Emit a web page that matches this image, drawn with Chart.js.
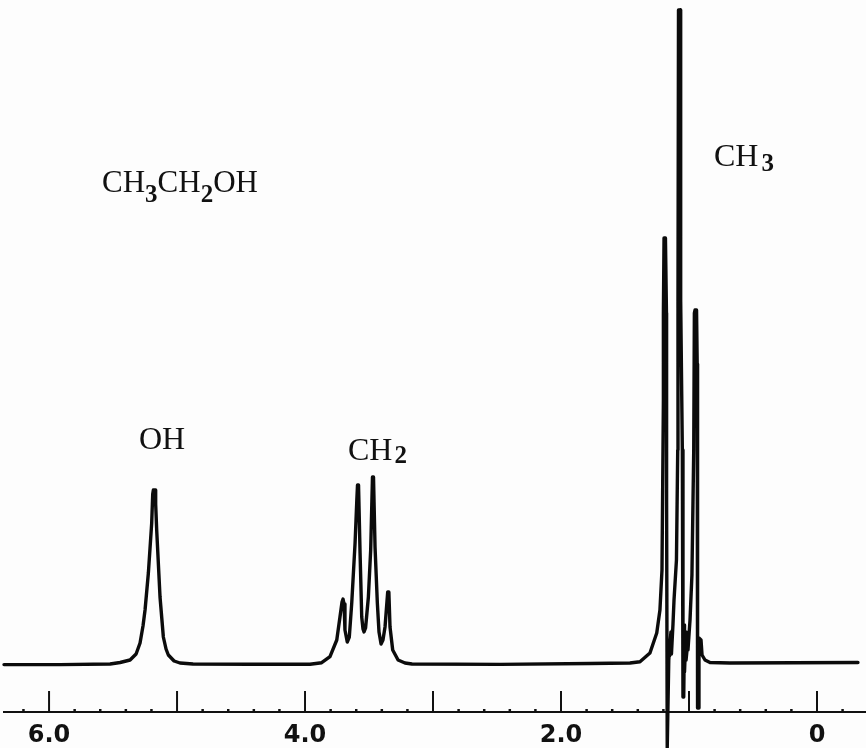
<!DOCTYPE html>
<html lang="en">
<head>
    <meta charset="UTF-8">
    <title>Ethanol NMR spectrum</title>
    <script src="https://cdn.jsdelivr.net/npm/chart.js"></script>
    <style>
        html, body { margin: 0; padding: 0; background-color: #fdfdfd; }
        .chart-box { position: relative; width: 866px; height: 748px; overflow: hidden; }
        .peak-label {
            position: absolute; white-space: nowrap; color: #111;
            font-family: 'Liberation Serif', serif; font-size: 32px; line-height: 34px;
        }
        .peak-label.formula { font-size: 31px; }
        .peak-label sub { font-size: 25px; font-weight: 700; line-height: 0; }
    </style>
</head>
<body>
    <div class="chart-box">
        <canvas id="nmrChart"></canvas>
        <div class="peak-label formula" style="left:102px;top:165px">CH<sub style="vertical-align:-10px">3</sub>CH<sub style="vertical-align:-10px">2</sub>OH</div>
        <div class="peak-label" style="left:139px;top:421px">OH</div>
        <div class="peak-label" style="left:348px;top:432px">CH<sub style="vertical-align:-3px;margin-left:2px">2</sub></div>
        <div class="peak-label" style="left:714px;top:138px">CH<sub style="vertical-align:-5px;margin-left:3px">3</sub></div>
    </div>

    <script>
        // spectrum trace
        const shifts = [6.352,5.914,5.523,5.445,5.367,5.320,5.289,5.266,5.250,5.224,5.198,5.190,5.185,5.172,5.167,5.159,5.133,5.107,5.086,5.068,5.023,4.977,4.875,4.430,3.961,
            3.870,3.805,3.752,3.727,3.711,3.703,3.695,3.688,3.670,3.654,3.635,3.609,3.595,3.590,3.582,3.570,3.557,3.547,3.539,3.527,3.505,3.487,3.473,3.465,3.453,3.435,3.422,3.406,3.391,3.375,3.354,3.345,3.336,3.315,3.273,3.219,3.164,
            2.477,1.773,1.461,1.383,1.305,1.252,1.227,1.211,1.200,1.200,1.195,1.184,1.176,1.175,1.170,1.166,
            1.158,1.141,1.152,1.129,1.137,1.125,1.117,1.098,1.088,1.086,1.082,1.066,1.065,1.052,1.047,1.047,1.041,1.035,1.035,1.023,1.023,1.008,1.008,0.992,0.977,0.963,0.958,0.953,0.941,0.936,0.934,0.932,0.927,0.922,0.906,0.898,0.875,0.836,0.680,-0.320];
        const intensity = [-0.6,-0.6,0,1.5,4,10,21,38,54,91,141,170,174,174,160,134,67,27,15,9,3,1,0,-0.3,-0.3,
            1.3,7.3,24,47,62,65,60,34,22,27,61,121,165,179,179,111,47,35,32,36,67,114,187,187,117,61,32,20,24,37,72,72,37,14,4,1,0,
            -0.4,0.5,1,2.3,11,31,54,94,264,351,426,426,351,164,-84,-84,
            4,32,8,34,10,40,64,104,214,364,654,654,364,214,104,-33,-33,39,-8,32,4,24,14,44,89,214,351,354,354,300,64,-44,-44,26,24,9,4,1.5,1,1.5];
        const tickValues = [6.2,6,5.8,5.6,5.4,5.2,5,4.8,4.6,4.4,4.2,4,3.8,3.6,3.4,3.2,3,2.8,2.6,2.4,2.2,2,1.8,1.6,1.4,1.2,1,0.8,0.6,0.4,0.2,0,-0.2];
        const labelledTicks = [6, 4, 2, 0];
        const tickLabels = ['6.0', '4.0', '2.0', '0'];

        const isMajor = v => Math.abs(v - Math.round(v)) < 1e-6;

        // chart.js can't give each tick its own length, so draw them here
        const axisTicks = {
            id: 'axisTicks',
            beforeDatasetsDraw(chart) {
                const scale = chart.scales.x, ctx = chart.ctx, bottom = scale.top;
                ctx.save();
                ctx.strokeStyle = '#111';
                tickValues.forEach(v => {
                    const px = scale.getPixelForValue(v);
                    ctx.lineWidth = isMajor(v) ? 2 : 2.5;
                    ctx.beginPath();
                    ctx.moveTo(px, bottom);
                    ctx.lineTo(px, bottom - (isMajor(v) ? 21 : 3));
                    ctx.stroke();
                });
                ctx.restore();
            }
        };

        new Chart(document.getElementById('nmrChart').getContext('2d'), {
            type: 'scatter',
            data: {
                datasets: [{
                    data: shifts.map((s, i) => ({ x: s, y: intensity[i] })),
                    showLine: true, pointRadius: 0, tension: 0,
                    borderColor: '#0b0b0b', borderWidth: 3.4,
                    borderJoinStyle: 'round', borderCapStyle: 'round',
                    clip: false
                }]
            },
            options: {
                responsive: true, maintainAspectRatio: false, animation: false,
                layout: { padding: { left: 4, right: 0, top: 0, bottom: 0 } },
                plugins: { legend: { display: false }, tooltip: { enabled: false } },
                scales: {
                    x: {
                        type: 'linear', reverse: true, min: -0.383, max: 6.352,
                        afterBuildTicks: s => { s.ticks = tickValues.map(v => ({ value: v })); },
                        afterFit: s => { s.height = 36; },
                        grid: { display: false, drawTicks: false },
                        border: { display: true, color: '#111', width: 2 },
                        ticks: {
                            autoSkip: false, maxRotation: 0, padding: 9, color: '#111',
                            font: { family: "'DejaVu Sans'", size: 24, weight: '700' },
                            callback: v => {
                                const i = labelledTicks.findIndex(t => Math.abs(t - v) < 1e-6);
                                return i >= 0 ? tickLabels[i] : '';
                            }
                        }
                    },
                    y: { display: false, min: -48, max: 664 }
                }
            },
            plugins: [axisTicks]
        });
    </script>
</body>
</html>
